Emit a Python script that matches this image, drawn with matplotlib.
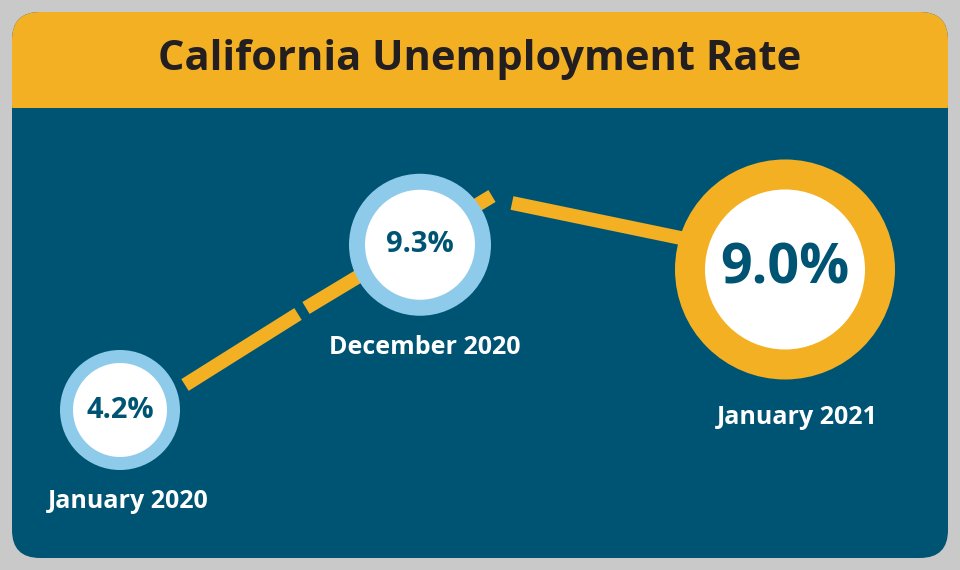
import matplotlib.pyplot as plt
from matplotlib.patches import FancyBboxPatch, Circle, Rectangle

# Data
periods = ['January 2020', 'December 2020', 'January 2021']
rates = [4.2, 9.3, 9.0]
title = 'California Unemployment Rate'

TEAL = '#005473'
YELLOW = '#f3b023'
LIGHTBLUE = '#8ecbea'

fig = plt.figure(figsize=(9.6, 5.7), dpi=100)
fig.patch.set_facecolor('#c9c9c9')
ax = fig.add_axes([0, 0, 1, 1])
ax.set_xlim(0, 960)
ax.set_ylim(570, 0)
ax.axis('off')

# card: yellow header + teal body
ax.add_patch(FancyBboxPatch((12, 12), 936, 546, boxstyle='round,pad=0,rounding_size=28',
                            fc=TEAL, ec='none'))
ax.add_patch(FancyBboxPatch((12, 12), 936, 120, boxstyle='round,pad=0,rounding_size=28',
                            fc=YELLOW, ec='none'))
ax.add_patch(Rectangle((12, 108), 936, 30, fc=TEAL, ec='none'))
ax.text(480, 60, title, ha='center', va='center', fontsize=30, fontweight='bold',
        family='Open Sans', color='#231f20')

# value -> vertical position
def ypos(v):
    return 410 - (v - rates[0]) * 32.4

xs = [120, 420, 785]
ys = [ypos(v) for v in rates]
ys[2] += 15

# arrow band (broken at chevrons)
segs = [((185, 385), (298, 314)), ((306, 308), (492, 196)), ((512, 203), (700, 242))]
for (x0, y0), (x1, y1) in segs:
    ax.plot([x0, x1], [y0, y1], color=YELLOW, lw=10, solid_capstyle='butt', zorder=2)

outer = [60, 71, 110]
inner = [47, 55, 80]
rings = [LIGHTBLUE, LIGHTBLUE, YELLOW]
fs = [21, 21, 40]
for x, y, v, ro, ri, c, f in zip(xs, ys, rates, outer, inner, rings, fs):
    ax.add_patch(Circle((x, y), ro, fc=c, ec='none', zorder=3))
    ax.add_patch(Circle((x, y), ri, fc='white', ec='none', zorder=4))
    ax.text(x, y, f'{v:.1f}%', ha='center', va='center', fontsize=f, fontweight='bold',
            family='Open Sans', color=TEAL, zorder=5)

label_pos = [(128, 502), (425, 347), (797, 418)]
for (lx, ly), p in zip(label_pos, periods):
    ax.text(lx, ly, p, ha='center', va='center', fontsize=18, fontweight='bold',
            family='Open Sans', color='white')

fig.savefig('out.png', dpi=100)
